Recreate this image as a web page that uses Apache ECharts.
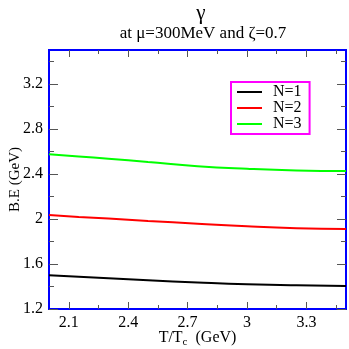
<!DOCTYPE html>
<html>
<head>
<meta charset="utf-8">
<script src="https://cdn.jsdelivr.net/npm/echarts@6/dist/echarts.min.js"></script>
<style>
  html, body { margin: 0; padding: 0; background: #fff; }
  #chart { width: 349px; height: 349px; }
</style>
</head>
<body>
<div id="chart"></div>
<script>
  // T/Tc values
  var temps = [2.0, 2.15, 2.3, 2.5, 2.75, 3.0, 3.25, 3.5]
  // B.E for each N
  var n1 = [1.500, 1.486, 1.472, 1.455, 1.436, 1.420, 1.410, 1.405]
  var n2 = [2.035, 2.018, 2.003, 1.982, 1.958, 1.935, 1.918, 1.910]
  var n3 = [2.575, 2.555, 2.535, 2.505, 2.468, 2.445, 2.430, 2.425]
  var names = ['N=1', 'N=2', 'N=3']
  var colors = ['#000000', '#ff0000', '#00ff00']
  // ticks
  var xMajor = [2.1, 2.4, 2.7, 3, 3.3]
  var xMinor = [2.25, 2.55, 2.85, 3.15, 3.45]
  var yMajor = [1.2, 1.6, 2, 2.4, 2.8, 3.2]
  var yMinor = [1.4, 1.8, 2.2, 2.6, 3.0, 3.4]

  var serif = 'Liberation Serif'

  function pairs(ys) {
    return temps.map(function (t, i) { return [t, ys[i]] })
  }

  // 一根轴只负责一组刻度（主/次，上下左右各一）
  function xAx(pos, ticks, len, withLabel) {
    return {
      type: 'value', position: pos, min: 2.0, max: 3.5,
      axisLine: { show: false },
      splitLine: { show: false },
      axisTick: { show: true, inside: true, length: len, customValues: ticks,
        lineStyle: { color: '#555', width: 1 } },
      axisLabel: withLabel ? { show: true, customValues: ticks, margin: 6,
        fontFamily: serif, fontSize: 16, color: '#000' } : { show: false }
    }
  }
  function yAx(pos, ticks, len, withLabel) {
    return {
      type: 'value', position: pos, min: 1.2, max: 3.5,
      axisLine: { show: false },
      splitLine: { show: false },
      axisTick: { show: true, inside: true, length: len, customValues: ticks,
        lineStyle: { color: '#555', width: 1 } },
      axisLabel: withLabel ? { show: true, customValues: ticks, margin: 6,
        fontFamily: serif, fontSize: 16, color: '#000' } : { show: false }
    }
  }

  var xs = [
    xAx('bottom', xMajor, 7, true),
    xAx('bottom', xMinor, 4, false),
    xAx('top', xMajor, 7, false),
    xAx('top', xMinor, 4, false)
  ]
  xs[0].name = 'T/T{s|c}  (GeV)'
  xs[0].nameLocation = 'middle'
  xs[0].nameGap = 19
  xs[0].nameMoveOverlap = false
  xs[0].nameTextStyle = { fontFamily: serif, fontSize: 16, color: '#000',
    rich: { s: { fontFamily: serif, fontSize: 11, verticalAlign: 'bottom', padding: [9, 0, 0, 0] } } }

  var ys = [
    yAx('left', yMajor, 9, true),
    yAx('left', yMinor, 5, false),
    yAx('right', yMajor, 9, false),
    yAx('right', yMinor, 5, false)
  ]
  ys[0].name = 'B.E (GeV)'
  ys[0].nameLocation = 'middle'
  ys[0].nameGap = 26
  ys[0].nameMoveOverlap = false
  ys[0].nameTextStyle = { fontFamily: serif, fontSize: 15, color: '#000' }

  var option = {
    animation: false,
    backgroundColor: '#fff',
    title: [{
      text: 'γ', left: 196, top: -2, textAlign: 'center',
      textStyle: { fontFamily: serif, fontSize: 21, fontWeight: 'normal', color: '#000' }
    }, {
      text: 'at μ=300MeV and ζ=0.7', left: 198, top: 20, textAlign: 'center',
      textStyle: { fontFamily: serif, fontSize: 17, fontWeight: 'normal', color: '#000' }
    }],
    grid: { left: 49, right: 3, top: 50, bottom: 40, show: true,
      outerBoundsMode: 'none', containLabel: false,
      borderColor: '#0000ff', borderWidth: 2, backgroundColor: 'transparent' },
    legend: {
      orient: 'vertical', left: 231, top: 82,
      data: names,
      icon: 'rect', itemWidth: 25, itemHeight: 2, itemGap: 0,
      padding: [2, 8, 2, 6],
      borderColor: '#ff00ff', borderWidth: 2,
      textStyle: { fontFamily: serif, fontSize: 16, lineHeight: 15, color: '#000', padding: [0, 0, 0, 6] }
    },
    xAxis: xs,
    yAxis: ys,
    series: [n1, n2, n3].map(function (d, i) {
      return {
        name: names[i], type: 'line', smooth: true, showSymbol: false,
        xAxisIndex: 0, yAxisIndex: 0,
        data: pairs(d),
        itemStyle: { color: colors[i] },
        lineStyle: { color: colors[i], width: 2 }
      }
    })
  }

  var chart = echarts.init(document.getElementById('chart'))
  chart.setOption(option)
</script>
</body>
</html>
